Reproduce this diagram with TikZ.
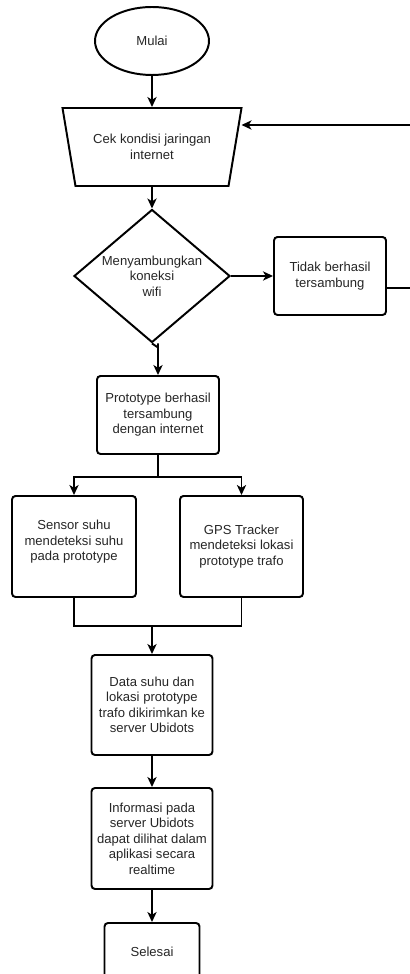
\documentclass[tikz,border=0pt]{standalone}
\usepackage{fontspec}
\setmainfont{Liberation Sans}
\usetikzlibrary{arrows.meta,shapes.geometric}

\begin{document}
\begin{tikzpicture}[>={Stealth[length=2.5mm,width=2.3mm,inset=0.7mm]},line width=1.4pt,
  font=\fontsize{9.3}{11}\selectfont,
  base/.style={draw=black,text=black!85,align=center,inner sep=0pt},
  proses/.style={base,rectangle,rounded corners=2.5pt},
  terminal/.style={base,ellipse},
  masukan/.style={base,trapezium,trapezium angle=62.6,shape border rotate=180,trapezium stretches body},
  keputusan/.style={base,diamond,aspect=1.17,inner sep=-4pt},
  arr/.style={->}]
\useasboundingbox (0,0) rectangle (10.25,24.35);
% simpul
\node[terminal,minimum width=2.85cm,minimum height=1.7cm] (mulai) at (3.8,23.325) {Mulai};
\node[masukan,minimum width=4.475cm,minimum height=1.95cm] (cek) at (3.8,20.675) {Cek kondisi jaringan\\internet};
\node[keputusan,minimum width=3.9cm,minimum height=3.325cm] (konek) at (3.8,17.45) {Menyambungkan\\koneksi\\wifi};
\node[proses,minimum width=2.8cm,minimum height=1.95cm] (gagal) at (8.25,17.45) {Tidak berhasil\\tersambung};
\node[proses,minimum width=3.05cm,minimum height=1.95cm] (proto) at (3.95,13.975) {Prototype berhasil\\tersambung\\dengan internet};
\node[proses,minimum width=3.1cm,minimum height=2.525cm] (sensor) at (1.85,10.6875) {Sensor suhu\\mendeteksi suhu\\pada prototype\\[-2.5pt]};
\node[proses,minimum width=3.075cm,minimum height=2.525cm] (gps) at (6.0375,10.6875) {GPS Tracker\\mendeteksi lokasi\\prototype trafo};
\node[proses,minimum width=3.025cm,minimum height=2.5cm] (kirim) at (3.8,6.725) {Data suhu dan\\lokasi prototype\\trafo dikirimkan ke\\server Ubidots};
\node[proses,minimum width=3.025cm,minimum height=2.525cm] (info) at (3.8,3.3875) {Informasi pada\\server Ubidots\\dapat dilihat dalam\\aplikasi secara\\realtime};
\node[proses,minimum width=2.375cm,minimum height=1.45cm] (selesai) at (3.8,0.55) {Selesai};
\coordinate (gabung) at (3.8,8.7);
\coordinate (balik) at (10.4,0);
\coordinate (masuk) at ([xshift=2.2375cm,yshift=0.55cm]cek.center);
% alur
\draw[arr] (mulai) -- (cek);
\draw[arr] (cek.south) -- (konek.north);
\draw[arr] (konek) -- (gagal);
\draw[arr] (konek.south) -- ++(0.15,-0.1) -- (konek.south -| proto.north) ++(0,-0.1) -- (proto.north);
\draw[arr] ([yshift=-0.3cm]gagal.east) -| (balik |- masuk) -- (masuk);
\draw[arr] (proto.south) -- ++(0,-0.55) -| (sensor.north);
\draw[arr] (proto.south) -- ++(0,-0.55) -| (gps.north);
\draw (sensor.south) |- (gabung) -| (gps.south);
\draw[arr] (gabung) -- (kirim.north);
\draw[arr] (kirim) -- (info);
\draw[arr] (info) -- (selesai);
\end{tikzpicture}
\end{document}
